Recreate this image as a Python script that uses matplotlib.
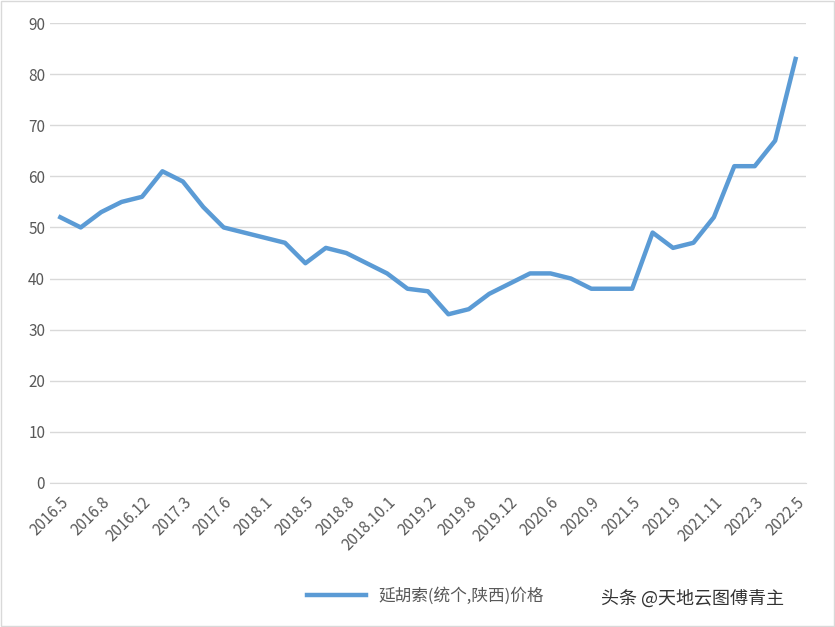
import matplotlib.pyplot as plt

plt.rcParams['font.family'] = ['Noto Sans CJK SC', 'DejaVu Sans']

labels = ['2016.5', '', '2016.8', '', '2016.12', '', '2017.3', '', '2017.6', '',
          '2018.1', '', '2018.5', '', '2018.8', '', '2018.10.1', '', '2019.2', '',
          '2019.8', '', '2019.12', '', '2020.6', '', '2020.9', '', '2021.5', '',
          '2021.9', '', '2021.11', '', '2022.3', '', '2022.5']
prices = [52, 50, 53, 55, 56, 61, 59, 54, 50, 49, 48, 47, 43, 46, 45, 43, 41, 38, 37.5,
          33, 34, 37, 39, 41, 41, 40, 38, 38, 38, 49, 46, 47, 52, 62, 62, 67, 83]

fig = plt.figure(figsize=(8.35, 6.27), dpi=100)
ax = fig.add_axes([0.06, 0.23, 0.905, 0.733])
x = list(range(len(prices)))
ax.plot(x, prices, color='#5b9bd5', lw=3.2, label='延胡索(统个,陕西)价格')
ax.set_xlim(-0.5, len(prices) - 0.5)
ax.set_ylim(0, 90)
ax.set_yticks(range(0, 91, 10))
ax.grid(axis='y', color='#d9d9d9', lw=1)
ax.set_axisbelow(True)
ax.set_xticks(x[::2])
ax.set_xticklabels(labels[::2], rotation=45, ha='right', rotation_mode='anchor')
ax.tick_params(axis='both', length=0, labelsize=11, colors='#595959')
ax.tick_params(axis='x', pad=8)
for s in ax.spines.values():
    s.set_visible(False)
ax.spines['bottom'].set_visible(True)
ax.spines['bottom'].set_color('#d9d9d9')

fig.legend(loc='center', bbox_to_anchor=(0.51, 0.05), frameon=False, fontsize=12,
           labelcolor='#595959', handlelength=3.5)
fig.text(0.72, 0.045, '头条 @天地云图傅青主', fontsize=13, color='#333333', va='center')
fig.patches.append(plt.Rectangle((0.001, 0.001), 0.998, 0.998, transform=fig.transFigure,
                                 fill=False, edgecolor='#d9d9d9', lw=1))
fig.savefig('out.png', dpi=100)
